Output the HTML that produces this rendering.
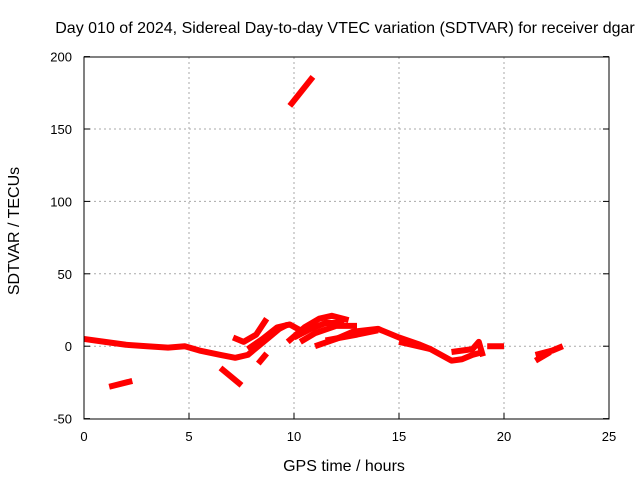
<!DOCTYPE html>
<html><head><meta charset="utf-8"><style>
body{margin:0;background:#fff}
svg{display:block;font-family:"Liberation Sans",sans-serif}
</style></head><body>
<svg id="chart" width="640" height="480">
<rect width="640" height="480" fill="#fff"/>
<text x="345" y="33" font-size="16" text-anchor="middle">Day 010 of 2024, Sidereal Day-to-day VTEC variation (SDTVAR) for receiver dgar</text>
<g id="grid"></g><g id="series"></g>
<rect x="84" y="57" width="525" height="362" fill="none" stroke="#000"/>
<g id="ticks"></g>
<text x="344" y="471" font-size="16" text-anchor="middle">GPS time / hours</text>
<text transform="translate(19,231) rotate(-90)" font-size="16" text-anchor="middle">SDTVAR / TECUs</text>
</svg>
<script>
const xTicks=[0,5,10,15,20,25];
const yTicks=[-50,0,50,100,150,200];
const tracks=[
[[0,5],[1,3],[2,1],[3,0],[4,-1],[4.8,0],[5.5,-3],[6.5,-6],[7.2,-8],[7.8,-6],[8.3,0],[8.8,6],[9.3,12],[9.7,15]],
[[1.2,-28],[2.3,-24]],
[[6.5,-15],[7.5,-27]],
[[7.1,6],[7.6,3],[8.2,8],[8.7,19]],
[[8.3,-12],[8.7,-5]],
[[7.8,-2],[8.5,5],[9.2,13],[9.8,15],[10.3,11]],
[[9.8,166],[10.9,186]],
[[9.7,3],[10.5,13],[11.2,19],[11.8,21],[12.6,18]],
[[10,6],[10.8,12],[11.5,16],[12.4,16]],
[[10.3,3],[11,9],[12,14],[13,14]],
[[11,0],[12,5],[12.8,10],[14,12],[15,6],[16,1],[16.5,-2]],
[[11.5,4],[13,8],[14,11]],
[[15,3],[16.5,-2],[17,-6],[17.5,-10],[18,-9],[18.5,-6],[19,-4]],
[[17.5,-4],[18.5,-2],[18.8,3],[19,-7]],
[[19.2,0],[20,0]],
[[21.5,-6],[22.3,-3],[22.8,0]],
[[21.5,-10],[22.2,-4]]
];
const X=h=>84+h*21, Y=v=>346.2-v*1.448;
const NS='http://www.w3.org/2000/svg';
const g=document.getElementById('grid'),t=document.getElementById('ticks'),s=document.getElementById('series');
function mk(tag,a,p){const e=document.createElementNS(NS,tag);for(const k in a)e.setAttribute(k,a[k]);p.appendChild(e);return e;}
xTicks.forEach(v=>{
 if(v>0&&v<25){const l=mk('line',{x1:X(v),x2:X(v),y1:57,y2:419,stroke:'#aaa','stroke-dasharray':'2,3'},g);
 
 }
 mk('line',{x1:X(v),x2:X(v),y1:419,y2:413,stroke:'#000'},t);
 const tx=mk('text',{x:X(v),y:441,'font-size':13,'text-anchor':'middle'},t);tx.textContent=v;
 
 
});
yTicks.forEach(v=>{
 if(v>-50&&v<200){const l=mk('line',{x1:84,x2:609,y1:Y(v),y2:Y(v),stroke:'#aaa','stroke-dasharray':'2,3'},g);
 
 }
 mk('line',{x1:84,x2:90,y1:Y(v),y2:Y(v),stroke:'#000'},t);
 mk('line',{x1:603,x2:609,y1:Y(v),y2:Y(v),stroke:'#000'},t);
 const tx=mk('text',{x:72,y:Y(v)+5,'font-size':13,'text-anchor':'end'},t);tx.textContent=v;
 
 
});
tracks.forEach(tr=>{
 const p=mk('polyline',{points:tr.map(q=>X(q[0])+','+Y(q[1])).join(' '),fill:'none',stroke:'#f00','stroke-width':6,'stroke-linejoin':'round'},s);
 
 
});
</script>
</body></html>
